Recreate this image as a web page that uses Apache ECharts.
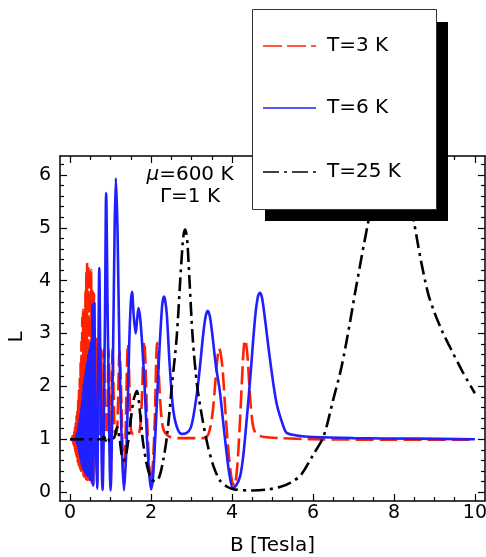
<!DOCTYPE html>
<html>
<head>
<meta charset="utf-8">
<script src="https://cdn.jsdelivr.net/npm/echarts@6/dist/echarts.min.js"></script>
<style>
html, body { margin: 0; padding: 0; background: #fff; }
#chart { width: 486px; height: 557px; }
</style>
</head>
<body>
<div id="chart"></div>
<script>
// tick positions
const xMajor = [0, 2, 4, 6, 8, 10];
const xMinor = [0.5, 1, 1.5, 2.5, 3, 3.5, 4.5, 5, 5.5, 6.5, 7, 7.5, 8.5, 9, 9.5];
const yMajor = [0, 1, 2, 3, 4, 5, 6];
const yMinor = [0.2, 0.4, 0.6, 0.8, 1.2, 1.4, 1.6, 1.8, 2.2, 2.4, 2.6, 2.8, 3.2, 3.4, 3.6, 3.8,
                4.2, 4.4, 4.6, 4.8, 5.2, 5.4, 5.6, 5.8, 6.2];

const names = ['T=3 K', 'T=6 K', 'T=25 K'];

// [B (Tesla), L]
const t3 = [[0,1],[0.04,1],[0.06,1.06],[0.07,0.93],[0.08,1.1],[0.09,0.88],[0.1,1.16],[0.11,0.82],
  [0.12,1.24],[0.13,0.76],[0.14,1.33],[0.15,0.69],[0.16,1.44],[0.17,0.63],[0.18,1.58],[0.19,0.57],
  [0.2,1.74],[0.21,0.52],[0.22,1.93],[0.23,0.48],[0.24,2.15],[0.25,0.44],[0.26,2.45],[0.27,0.4],
  [0.28,2.85],[0.29,0.37],[0.3,3.3],[0.31,0.34],[0.32,3.45],[0.33,0.31],[0.34,3.15],[0.35,0.29],
  [0.36,3.4],[0.37,0.27],[0.38,3.8],[0.39,0.25],[0.4,4.15],[0.41,0.23],[0.42,4.35],[0.435,0.21],
  [0.45,4.3],[0.465,0.19],[0.48,4.25],[0.5,0.17],[0.52,4.2],[0.54,0.16],[0.555,3.8],[0.571,0.15],
  [0.59,3.75],[0.61,1.3],[0.625,1.15],[0.645,2.9],[0.667,0.15],[0.69,2.75],[0.71,1.2],[0.735,1.1],
  [0.765,2.7],[0.8,0.15],[0.835,2.7],[0.87,1.15],[0.9,1.1],[0.95,2.7],[1.0,0.15],[1.05,2.7],
  [1.1,1.15],[1.15,1.1],[1.22,2.65],[1.33,0.15],[1.43,2.8],[1.5,1.2],[1.55,1.1],[1.68,1.1],
  [1.75,1.4],[1.83,2.85],[1.92,1.0],[2.0,0.15],[2.08,1.1],[2.15,2.82],[2.22,1.8],[2.3,1.2],
  [2.45,1.05],[2.7,1.02],[3.3,1.02],[3.42,1.1],[3.52,1.5],[3.6,2.2],[3.65,2.6],[3.68,2.72],
  [3.72,2.62],[3.77,2.3],[3.83,1.6],[3.92,0.7],[4.0,0.2],[4.06,0.12],[4.13,0.5],[4.2,1.4],
  [4.27,2.5],[4.3,2.82],[4.32,2.88],[4.35,2.8],[4.39,2.5],[4.45,1.75],[4.52,1.25],[4.6,1.1],
  [4.8,1.04],[5.2,1.02],[6,1.0],[8,0.99],[10,0.99]];

const t6 = [[0,1],[0.1,1],[0.14,1.02],[0.15,0.97],[0.16,1.08],[0.17,0.93],[0.18,1.14],[0.19,0.87],
  [0.2,1.22],[0.21,0.8],[0.22,1.3],[0.23,0.72],[0.24,1.4],[0.25,0.65],[0.26,1.5],[0.27,0.58],
  [0.28,1.62],[0.29,0.52],[0.3,1.75],[0.31,0.47],[0.32,1.9],[0.33,0.43],[0.34,2.05],[0.35,0.4],
  [0.36,2.15],[0.37,0.37],[0.38,2.25],[0.39,0.34],[0.4,2.35],[0.41,0.32],[0.42,2.45],[0.435,0.3],
  [0.45,2.6],[0.465,0.28],[0.48,2.7],[0.5,0.22],[0.52,2.85],[0.54,0.2],[0.555,3.55],[0.571,0.12],
  [0.6,3.58],[0.63,1.2],[0.667,0.06],[0.695,2.2],[0.72,4.24],[0.75,2.3],[0.8,0.04],[0.86,3.2],
  [0.89,5.66],[0.93,3.2],[1.0,0.03],[1.06,2.6],[1.1,5.0],[1.13,5.94],[1.17,5.0],[1.22,2.6],
  [1.28,0.8],[1.33,0.03],[1.4,1.0],[1.46,2.8],[1.5,3.6],[1.53,3.79],[1.57,3.35],[1.62,3.0],
  [1.66,3.3],[1.69,3.48],[1.73,3.3],[1.78,2.8],[1.84,2.0],[1.9,1.0],[1.96,0.3],[2.0,0.05],
  [2.05,0.3],[2.12,1.3],[2.2,2.6],[2.27,3.5],[2.3,3.67],[2.32,3.7],[2.35,3.62],[2.39,3.35],
  [2.46,2.4],[2.54,1.6],[2.63,1.25],[2.75,1.1],[2.88,1.12],[2.97,1.2],[3.05,1.45],[3.17,2.1],
  [3.29,3.0],[3.35,3.33],[3.4,3.43],[3.45,3.33],[3.5,3.07],[3.6,2.4],[3.7,1.9],[3.82,1.05],
  [3.93,0.36],[4.02,0.08],[4.1,0.12],[4.2,0.3],[4.28,0.7],[4.36,1.35],[4.44,2.06],[4.57,3.3],
  [4.64,3.7],[4.69,3.77],[4.74,3.68],[4.81,3.3],[4.94,2.5],[5.1,1.68],[5.27,1.24],[5.35,1.12],
  [5.6,1.07],[6,1.04],[7,1.02],[8.5,1.01],[10,1.0]];

const t25 = [[0,1],[0.8,1.0],[0.84,1.05],[0.88,0.97],[0.93,1.04],[0.98,0.96],[1.03,1.02],[1.08,1.02],
  [1.16,1.23],[1.22,1.02],[1.28,0.68],[1.33,0.6],[1.4,0.78],[1.48,1.25],[1.57,1.75],[1.65,1.91],
  [1.72,1.55],[1.8,0.95],[1.9,0.5],[2.0,0.26],[2.1,0.2],[2.2,0.28],[2.3,0.6],[2.4,1.1],
  [2.52,2.06],[2.63,2.9],[2.72,4.0],[2.78,4.7],[2.81,4.9],[2.84,4.97],[2.87,4.9],[2.9,4.7],
  [2.95,4.0],[3.03,2.9],[3.14,2.0],[3.26,1.42],[3.4,0.88],[3.55,0.47],[3.7,0.22],[3.88,0.1],
  [4.05,0.05],[4.5,0.03],[4.9,0.05],[5.2,0.1],[5.45,0.18],[5.7,0.32],[6.0,0.7],[6.26,1.05],
  [6.5,1.75],[6.7,2.35],[6.9,3.15],[7.04,3.77],[7.36,5.09],[7.65,6.1],[7.95,6.5],[8.25,6.0],
  [8.49,5.13],[8.65,4.45],[8.84,3.77],[9.0,3.4],[9.2,3.03],[9.38,2.75],[9.7,2.27],[10,1.87]];

const FONT = 'DejaVu Sans';
const X_MIN = -0.25, X_MAX = 10.25;
const Y_MIN = -0.17, Y_MAX = 6.36;

function xAxisOf(pos, ticks, len, withLine, withLabel) {
    return {
        type: 'value', position: pos, min: X_MIN, max: X_MAX,
        axisLine: { show: withLine, onZero: false, lineStyle: { color: '#000', width: 1.5 } },
        axisTick: { show: true, inside: true, length: len, customValues: ticks,
                    lineStyle: { color: '#000', width: 1.2 } },
        axisLabel: { show: withLabel, customValues: xMajor, margin: 3,
                     color: '#000', fontSize: 19, fontFamily: FONT },
        splitLine: { show: false }
    };
}
function yAxisOf(pos, ticks, len, withLine, withLabel) {
    return {
        type: 'value', position: pos, min: Y_MIN, max: Y_MAX,
        axisLine: { show: withLine, onZero: false, lineStyle: { color: '#000', width: 1.5 } },
        axisTick: { show: true, inside: true, length: len, customValues: ticks,
                    lineStyle: { color: '#000', width: 1.2 } },
        axisLabel: { show: withLabel, customValues: yMajor, margin: 9,
                     color: '#000', fontSize: 19, fontFamily: FONT },
        splitLine: { show: false }
    };
}

const xAxes = [
    xAxisOf('bottom', xMajor, 7, true, true),
    xAxisOf('bottom', xMinor, 4, false, false),
    xAxisOf('top', xMajor, 7, true, false),
    xAxisOf('top', xMinor, 4, false, false)
];
xAxes[0].name = 'B [Tesla]';
xAxes[0].nameLocation = 'middle';
xAxes[0].nameGap = 35;
xAxes[0].nameTextStyle = { color: '#000', fontSize: 20, fontFamily: FONT };

const yAxes = [
    yAxisOf('left', yMajor, 7, true, true),
    yAxisOf('left', yMinor, 4, false, false),
    yAxisOf('right', yMajor, 7, true, false),
    yAxisOf('right', yMinor, 4, false, false)
];

const colors = ['#ff2200', '#1f1fff', '#000000'];
const dashes = [[18, 6], 'solid', [14, 5, 3, 5]];
const datas = [t3, t6, t25];

const chart = echarts.init(document.getElementById('chart'));
chart.setOption({
    animation: false,
    backgroundColor: '#fff',
    grid: { left: 60, top: 156, width: 425, height: 345, containLabel: false, outerBoundsMode: 'none' },
    xAxis: xAxes,
    yAxis: yAxes,
    series: datas.map((d, i) => ({
        name: names[i],
        type: 'line',
        xAxisIndex: 0,
        yAxisIndex: 0,
        data: d,
        symbol: 'none',
        smooth: 0.3,
        clip: true,
        z: 2 + i,
        lineStyle: { color: colors[i], width: 2.6, type: dashes[i] }
    })),
    graphic: [
        // annotation
        { type: 'text', x: 190, y: 175, z: 50,
          style: { text: '{i|μ}=600 K', textAlign: 'center', textVerticalAlign: 'middle',
                   align: 'center', verticalAlign: 'middle',
                   fontSize: 20, fontFamily: FONT, fill: '#000',
                   rich: { i: { fontStyle: 'italic', fontSize: 20, fontFamily: FONT } } } },
        { type: 'text', x: 190, y: 197, z: 50,
          style: { text: 'Γ=1 K', textAlign: 'center', textVerticalAlign: 'middle',
                   align: 'center', verticalAlign: 'middle',
                   fontSize: 20, fontFamily: FONT, fill: '#000' } },
        // y axis title
        { type: 'text', x: 17, y: 337, rotation: Math.PI / 2, z: 50,
          style: { text: 'L', textAlign: 'center', textVerticalAlign: 'middle',
                   align: 'center', verticalAlign: 'middle',
                   fontSize: 20, fontFamily: FONT, fill: '#000' } },
        // legend box with hard shadow
        { type: 'rect', z: 100, shape: { x: 265, y: 22, width: 183, height: 199 },
          style: { fill: '#000' } },
        { type: 'rect', z: 101, shape: { x: 252.5, y: 9.5, width: 184, height: 200 },
          style: { fill: '#fff', stroke: '#333', lineWidth: 1 } },
        { type: 'line', z: 102, shape: { x1: 263, y1: 46, x2: 316, y2: 46 },
          style: { stroke: colors[0], lineWidth: 1.6, lineDash: [19, 5] } },
        { type: 'line', z: 102, shape: { x1: 263, y1: 108, x2: 316, y2: 108 },
          style: { stroke: colors[1], lineWidth: 1.6 } },
        { type: 'line', z: 102, shape: { x1: 263, y1: 172, x2: 316, y2: 172 },
          style: { stroke: colors[2], lineWidth: 1.6, lineDash: [16, 5, 3, 5] } },
        ...names.map((n, i) => ({
            type: 'text', x: 327, y: [46, 108, 172][i], z: 102,
            style: { text: n, textAlign: 'left', textVerticalAlign: 'middle',
                     align: 'left', verticalAlign: 'middle',
                     fontSize: 20, fontFamily: FONT, fill: '#000' }
        }))
    ]
});
</script>
</body>
</html>
